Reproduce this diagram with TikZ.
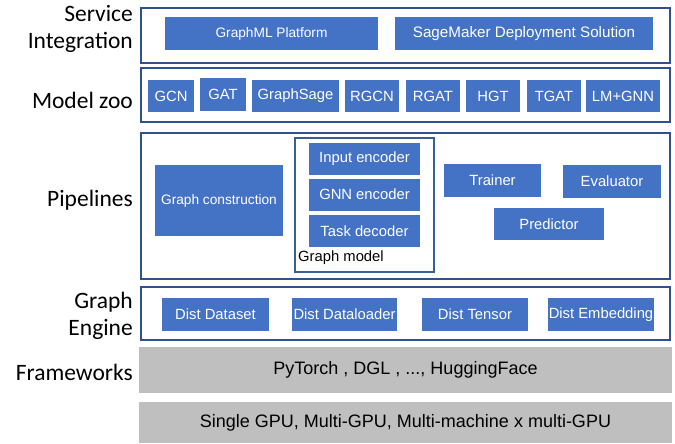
\documentclass[tikz,border=0pt]{standalone}
\usepackage{fontspec}
\setmainfont{Liberation Sans}
\newfontfamily\labelfont{Carlito}
\usepackage{tikz}
\usetikzlibrary{positioning}
\usepackage{xcolor}

\definecolor{boxblue}{HTML}{4472C4}
\definecolor{edgeblue}{HTML}{2F528F}
\definecolor{modelblue}{HTML}{3A5F95}
\definecolor{basegrey}{HTML}{BFBFBF}

\tikzset{
  layer/.style={draw=edgeblue, line width=1.5pt, fill=white, inner sep=0pt},
  block/.style={fill=boxblue, text=white, inner sep=0pt, font=\fontsize{14.8}{16}\selectfont},
  base/.style={fill=basegrey, inner sep=0pt, font=\fontsize{18}{20}\selectfont},
  side/.style={anchor=east, align=right, inner sep=0pt, font=\labelfont\fontsize{23.5}{27}\selectfont}
}

\begin{document}
\begin{tikzpicture}[x=1pt, y=-1pt]
\useasboundingbox (0,0) rectangle (675,444);

% layers
\node [layer, minimum width=529, minimum height=55] (service) at (405.5, 35.5) {};
\node [layer, minimum width=529, minimum height=54] (zoo) at (405.5, 95) {};
\node [layer, minimum width=529, minimum height=146] (pipe) at (405.5, 206) {};
\node [layer, minimum width=529, minimum height=53] (engine) at (405.5, 313.5) {};
\node [base, minimum width=533, minimum height=46] (frame) at (405.5, 370) {PyTorch , DGL , ..., HuggingFace};
\node [base, minimum width=533, minimum height=41] (hw) at (405.5, 422.5) {Single GPU, Multi-GPU, Multi-machine x multi-GPU};

% left labels
\node [side] (lservice) at (133, 29) {Service\\Integration};
\node [side] (lzoo) at (133, 100) {Model zoo};
\node [side] (lpipe) at (133, 200) {Pipelines};
\node [side] (lengine) at (133, 316) {Graph\\Engine};
\node [side] (lframe) at (133, 372) {Frameworks};

% service integration
\node [block, minimum width=213, minimum height=33, font=\fontsize{13.7}{15}\selectfont] (graphml) at (271.5, 33.5) {GraphML Platform};
\node [block, minimum width=258, minimum height=33, font=\fontsize{15.2}{16}\selectfont] (sagemaker) at (524, 33.5) {SageMaker Deployment Solution};

% model zoo
\node [block, minimum width=46, minimum height=32] (gcn) at (171, 96) {GCN};
\node [block, minimum width=46, minimum height=32] (gat) at (223, 94.5) {GAT};
\node [block, minimum width=87, minimum height=32] (sage) at (295.5, 96) {GraphSage};
\node [block, minimum width=54, minimum height=32] (rgcn) at (372, 96) {RGCN};
\node [block, minimum width=54, minimum height=32] (rgat) at (433, 96) {RGAT};
\node [block, minimum width=54, minimum height=32] (hgt) at (493, 96) {HGT};
\node [block, minimum width=54, minimum height=32] (tgat) at (554, 96) {TGAT};
\node [block, minimum width=74, minimum height=32] (lmgnn) at (623, 96) {LM+GNN};

% pipelines
\node [block, minimum width=128, minimum height=71, font=\fontsize{13.7}{15}\selectfont] (construct) at (219, 200.5) {Graph construction};
\node [draw=modelblue, line width=1.2pt, minimum width=139, minimum height=134, inner sep=0pt] (gmodel) at (364.5, 205) {};
\node [block, minimum width=111, minimum height=32] (inenc) at (364.5, 159) {Input encoder};
\node [block, minimum width=111, minimum height=32] (gnnenc) at (364.5, 194.5) {GNN encoder};
\node [block, minimum width=111, minimum height=32] (taskdec) at (364.5, 231) {Task decoder};
\node [anchor=west, inner sep=0pt, font=\fontsize{14.8}{16}\selectfont] (gmlabel) at (298, 258) {Graph model};
\node [block, minimum width=97, minimum height=33] (trainer) at (492.5, 180.5) {Trainer};
\node [block, minimum width=98, minimum height=33] (evaluator) at (612, 181.5) {Evaluator};
\node [block, minimum width=110, minimum height=32] (predictor) at (549, 224) {Predictor};

% graph engine
\node [block, minimum width=107, minimum height=33] (dataset) at (215.5, 314.5) {Dist Dataset};
\node [block, minimum width=105, minimum height=33] (loader) at (344.5, 314.5) {Dist Dataloader};
\node [block, minimum width=106, minimum height=33] (tensor) at (475, 314.5) {Dist Tensor};
\node [block, minimum width=106, minimum height=33] (embed) at (601, 314.5) {Dist Embedding};
\end{tikzpicture}
\end{document}
